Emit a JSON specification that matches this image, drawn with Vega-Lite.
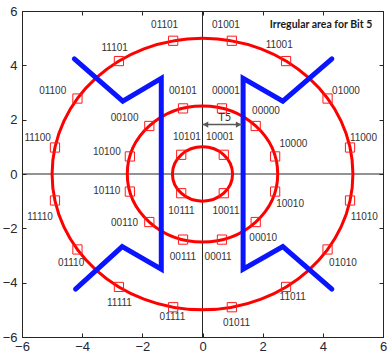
{
  "$schema": "https://vega.github.io/schema/vega-lite/v6.json",
  "width": 361,
  "height": 326,
  "autosize": {"type": "none"},
  "padding": {"left": 22, "top": 11, "right": 7, "bottom": 23},
  "background": "white",
  "config": {
    "view": {"stroke": "#262626", "strokeWidth": 1},
    "font": "Liberation Sans",
    "axis": {
      "grid": false,
      "domainColor": "#262626",
      "tickColor": "#262626",
      "labelColor": "#262630",
      "labelFontSize": 13,
      "labelFont": "Liberation Sans",
      "labelFlush": false,
      "tickSize": -4,
      "labelPadding": 8,
      "title": null
    }
  },
  "datasets": {
    "rings": [
      {"cx": 0, "cy": 0, "r": 1},
      {"cx": 0, "cy": 0, "r": 2.5},
      {"cx": 0, "cy": 0, "r": 5}
    ],
    "pts": [
      {"code": "10001", "sx": 0.707, "sy": 0.707, "lx": 0.58, "ly": 1.35},
      {"code": "10101", "sx": -0.707, "sy": 0.707, "lx": -0.52, "ly": 1.35},
      {"code": "10111", "sx": -0.707, "sy": -0.707, "lx": -0.7, "ly": -1.36},
      {"code": "10011", "sx": 0.707, "sy": -0.707, "lx": 0.78, "ly": -1.36},
      {"code": "10000", "sx": 2.415, "sy": 0.647, "lx": 3.02, "ly": 1.09},
      {"code": "00000", "sx": 1.768, "sy": 1.768, "lx": 2.11, "ly": 2.32},
      {"code": "00001", "sx": 0.647, "sy": 2.415, "lx": 0.78, "ly": 3.05},
      {"code": "00101", "sx": -0.647, "sy": 2.415, "lx": -0.65, "ly": 3.05},
      {"code": "00100", "sx": -1.768, "sy": 1.768, "lx": -2.59, "ly": 2.07},
      {"code": "10100", "sx": -2.415, "sy": 0.647, "lx": -3.18, "ly": 0.82},
      {"code": "10110", "sx": -2.415, "sy": -0.647, "lx": -3.18, "ly": -0.63},
      {"code": "00110", "sx": -1.768, "sy": -1.768, "lx": -2.59, "ly": -1.82},
      {"code": "00111", "sx": -0.647, "sy": -2.415, "lx": -0.65, "ly": -3.07},
      {"code": "00011", "sx": 0.647, "sy": -2.415, "lx": 0.52, "ly": -3.07},
      {"code": "00010", "sx": 1.768, "sy": -1.768, "lx": 2.02, "ly": -2.34},
      {"code": "10010", "sx": 2.415, "sy": -0.647, "lx": 2.91, "ly": -1.09},
      {"code": "11000", "sx": 4.904, "sy": 0.975, "lx": 5.35, "ly": 1.34},
      {"code": "01000", "sx": 4.157, "sy": 2.778, "lx": 4.77, "ly": 3.05},
      {"code": "11001", "sx": 2.778, "sy": 4.157, "lx": 2.55, "ly": 4.74},
      {"code": "01001", "sx": 0.975, "sy": 4.904, "lx": 0.78, "ly": 5.5},
      {"code": "01101", "sx": -0.975, "sy": 4.904, "lx": -1.26, "ly": 5.5},
      {"code": "11101", "sx": -2.778, "sy": 4.157, "lx": -2.92, "ly": 4.65},
      {"code": "01100", "sx": -4.157, "sy": 2.778, "lx": -4.98, "ly": 3.05},
      {"code": "11100", "sx": -4.904, "sy": 0.975, "lx": -5.48, "ly": 1.34},
      {"code": "11110", "sx": -4.904, "sy": -0.975, "lx": -5.4, "ly": -1.6},
      {"code": "01110", "sx": -4.157, "sy": -2.778, "lx": -4.37, "ly": -3.29},
      {"code": "11111", "sx": -2.778, "sy": -4.157, "lx": -2.76, "ly": -4.76},
      {"code": "01111", "sx": -0.975, "sy": -4.904, "lx": -1.0, "ly": -5.26},
      {"code": "01011", "sx": 0.975, "sy": -4.904, "lx": 1.13, "ly": -5.5},
      {"code": "11011", "sx": 2.778, "sy": -4.157, "lx": 3.0, "ly": -4.52},
      {"code": "01010", "sx": 4.157, "sy": -2.778, "lx": 4.67, "ly": -3.29},
      {"code": "11010", "sx": 4.904, "sy": -0.975, "lx": 5.38, "ly": -1.58}
    ],
    "blue": [
      {"side": "L", "i": 0, "x": -4.26, "y": 4.24},
      {"side": "L", "i": 1, "x": -2.65, "y": 2.68},
      {"side": "L", "i": 2, "x": -1.37, "y": 3.52},
      {"side": "L", "i": 3, "x": -1.37, "y": -3.5},
      {"side": "L", "i": 4, "x": -2.67, "y": -2.67},
      {"side": "L", "i": 5, "x": -4.22, "y": -4.24},
      {"side": "R", "i": 0, "x": 4.3, "y": 4.24},
      {"side": "R", "i": 1, "x": 2.67, "y": 2.68},
      {"side": "R", "i": 2, "x": 1.35, "y": 3.52},
      {"side": "R", "i": 3, "x": 1.35, "y": -3.5},
      {"side": "R", "i": 4, "x": 2.67, "y": -2.67},
      {"side": "R", "i": 5, "x": 4.3, "y": -4.24}
    ],
    "arrowline": [{"x": 0.0, "x2": 1.3, "y": 1.82}],
    "arrowheads": [
      {"x": 0.1, "y": 1.82, "shape": "triangle-left"},
      {"x": 1.2, "y": 1.82, "shape": "triangle-right"}
    ],
    "notes": [
      {"x": 0.74, "y": 2.05, "t": "T5", "kind": "t5"},
      {"x": 3.94, "y": 5.5, "t": "Irregular area for Bit 5", "kind": "title"}
    ],
    "zero": [{"v": 0}]
  },
  "layer": [
    {
      "data": {"name": "zero"},
      "mark": {"type": "rule", "color": "#262626", "strokeWidth": 1},
      "encoding": {
        "x": {"field": "v", "type": "quantitative", "scale": {"domain": [-6, 6], "nice": false, "zero": false}, "axis": null}
      }
    },
    {
      "data": {"name": "zero"},
      "mark": {"type": "rule", "color": "#262626", "strokeWidth": 1},
      "encoding": {
        "y": {"field": "v", "type": "quantitative", "scale": {"domain": [-6, 6], "nice": false, "zero": false}, "axis": null}
      }
    },
    {
      "data": {"name": "rings"},
      "mark": {
        "type": "point",
        "shape": "M 1 0 C 1 0.4987 0.5523 0.903 0 0.903 C -0.5523 0.903 -1 0.4987 -1 0 C -1 -0.4987 -0.5523 -0.903 0 -0.903 C 0.5523 -0.903 1 -0.4987 1 0 Z",
        "filled": false,
        "stroke": "#ff0000",
        "strokeWidth": 3,
        "opacity": 1
      },
      "encoding": {
        "x": {"field": "cx", "type": "quantitative", "scale": {"domain": [-6, 6], "nice": false, "zero": false}, "axis": {"orient": "bottom", "values": [-6, -4, -2, 0, 2, 4, 6], "labelPadding": 7}},
        "y": {"field": "cy", "type": "quantitative", "scale": {"domain": [-6, 6], "nice": false, "zero": false}, "axis": {"orient": "left", "values": [-6, -4, -2, 0, 2, 4, 6], "labelPadding": 9}},
        "size": {"field": "r", "type": "quantitative", "scale": {"type": "pow", "exponent": 2, "domain": [0, 5], "range": [0, 90500]}, "legend": null}
      }
    },
    {
      "data": {"name": "pts"},
      "mark": {"type": "point", "shape": "square", "filled": false, "stroke": "#ff1a1a", "strokeWidth": 1, "size": 85, "opacity": 1},
      "encoding": {
        "x": {"field": "sx", "type": "quantitative", "axis": {"orient": "top", "labels": false, "values": [-6, -4, -2, 0, 2, 4, 6]}},
        "y": {"field": "sy", "type": "quantitative", "axis": {"orient": "right", "labels": false, "values": [-6, -4, -2, 0, 2, 4, 6]}}
      }
    },
    {
      "data": {"name": "blue"},
      "mark": {"type": "line", "color": "#0a14ff", "strokeWidth": 5, "strokeCap": "round", "strokeJoin": "miter"},
      "encoding": {
        "x": {"field": "x", "type": "quantitative", "axis": null},
        "y": {"field": "y", "type": "quantitative", "axis": null},
        "detail": {"field": "side"},
        "order": {"field": "i", "type": "quantitative"}
      }
    },
    {
      "data": {"name": "pts"},
      "mark": {"type": "text", "fontSize": 10, "color": "#333333", "font": "Liberation Sans", "baseline": "middle", "align": "center"},
      "encoding": {
        "x": {"field": "lx", "type": "quantitative", "axis": null},
        "y": {"field": "ly", "type": "quantitative", "axis": null},
        "text": {"field": "code"}
      }
    },
    {
      "data": {"name": "arrowline"},
      "mark": {"type": "rule", "color": "#595959", "strokeWidth": 1.5},
      "encoding": {
        "x": {"field": "x", "type": "quantitative", "axis": null},
        "x2": {"field": "x2"},
        "y": {"field": "y", "type": "quantitative", "axis": null}
      }
    },
    {
      "data": {"name": "arrowheads"},
      "mark": {"type": "point", "filled": true, "color": "#595959", "size": 40, "opacity": 1},
      "encoding": {
        "x": {"field": "x", "type": "quantitative", "axis": null},
        "y": {"field": "y", "type": "quantitative", "axis": null},
        "shape": {"field": "shape", "type": "nominal", "scale": null, "legend": null}
      }
    },
    {
      "data": {"name": "notes"},
      "transform": [{"filter": "datum.kind == 't5'"}],
      "mark": {"type": "text", "fontSize": 11, "color": "#333333", "font": "Lato", "baseline": "middle", "align": "center"},
      "encoding": {
        "x": {"field": "x", "type": "quantitative", "axis": null},
        "y": {"field": "y", "type": "quantitative", "axis": null},
        "text": {"field": "t"}
      }
    },
    {
      "data": {"name": "notes"},
      "transform": [{"filter": "datum.kind == 'title'"}],
      "mark": {"type": "text", "fontSize": 10.5, "fontWeight": "bold", "color": "#1a1a1a", "font": "Lato", "baseline": "middle", "align": "center"},
      "encoding": {
        "x": {"field": "x", "type": "quantitative", "axis": null},
        "y": {"field": "y", "type": "quantitative", "axis": null},
        "text": {"field": "t"}
      }
    }
  ],
  "resolve": {"axis": {"x": "independent", "y": "independent"}}
}
